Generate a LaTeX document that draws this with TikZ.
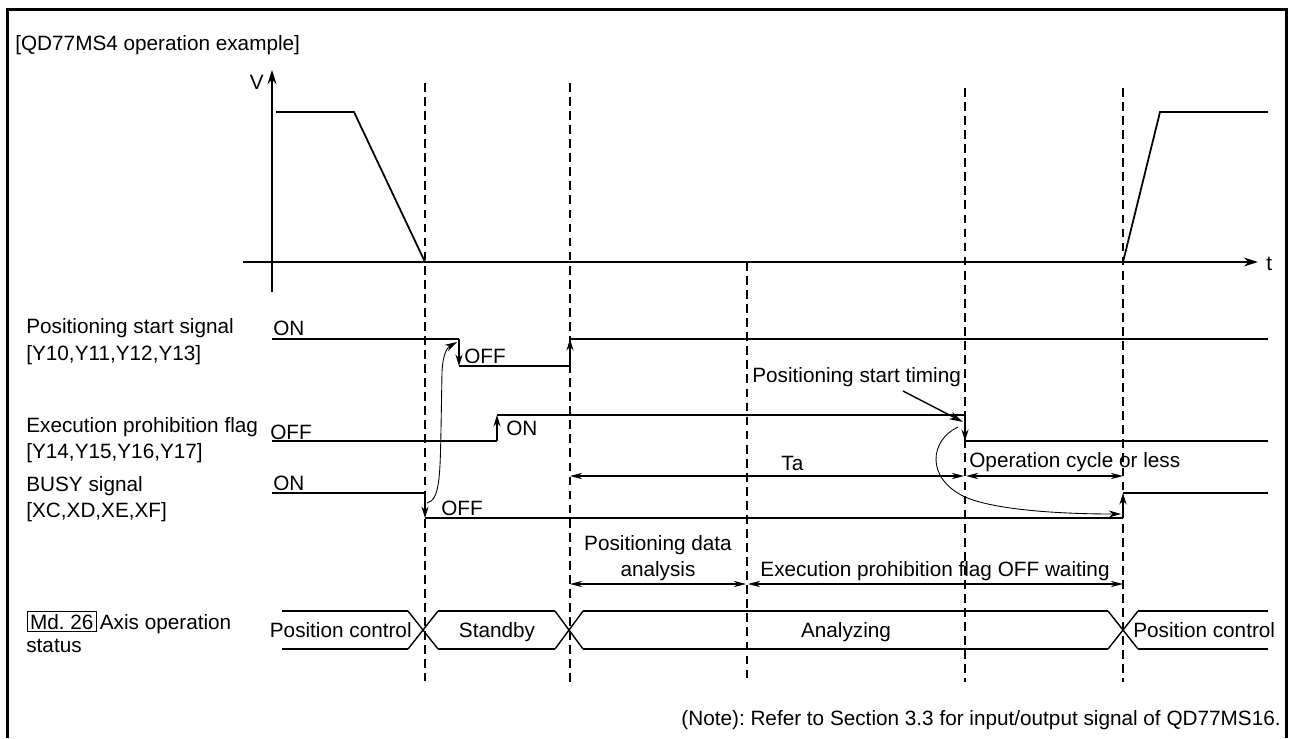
\documentclass[tikz,border=0pt]{standalone}
\usepackage{fontspec}
\setmainfont{Liberation Sans}
\usetikzlibrary{arrows.meta}
\frenchspacing

\begin{document}
\begin{tikzpicture}[x=0.02cm,y=-0.02cm,font=\fontsize{11.8}{14}\selectfont]
\tikzset{sig/.style={line width=1.1pt},
  guide/.style={line width=0.6pt,dash pattern=on 5pt off 3pt},
  axis/.style={line width=1.5pt,-{Stealth[length=8pt,width=5pt]}},
  flank/.style={line width=1.1pt,-{Stealth[length=6.5pt,width=4pt]}},
  thinarr/.style={line width=0.5pt,-{Stealth[length=7pt,width=4pt]}},
  dim/.style={line width=0.7pt,{Stealth[length=7pt,width=3.6pt]}-{Stealth[length=7pt,width=3.6pt]}},
  txt/.style={inner sep=0pt,anchor=base west}}

\useasboundingbox (0,0) rectangle (1294,738);

% frame
\draw[line width=1.7pt] (7.5,738) -- (7.5,9.5) -- (1286.5,9.5) -- (1286.5,738);

\path (15,50) node[txt] (title) {[QD77MS4 operation example]};

% speed graph
\draw[axis] (272,292) -- (272,70);
\draw[axis] (243,262) -- (1258,262);
\path (264,89) node[inner sep=0pt,anchor=base east] (vlab) {V};
\path (1266,270) node[txt] (tlab) {t};
\draw[line width=1pt] (276,112) -- (354,112) -- (425,262);
\draw[line width=1pt] (1123,262) -- (1160,112) -- (1268,112);

% time marks
\draw[guide] (425,83) -- (425,681);
\draw[guide] (570,83) -- (570,683);
\draw[guide] (747,262) -- (747,680);
\draw[guide] (965,88) -- (965,682);
\draw[guide] (1123,88) -- (1123,682);

% signal names
\path (26,333) node[txt] (pss) {Positioning start signal};
\path (26,360) node[txt] (pssy) {[Y10,Y11,Y12,Y13]};
\path (26,432) node[txt] (epf) {Execution prohibition flag};
\path (26,458) node[txt] (epfy) {[Y14,Y15,Y16,Y17]};
\path (26,491) node[txt] (busy) {BUSY signal};
\path (26,517) node[txt] (busyx) {[XC,XD,XE,XF]};
\path (27,629) node[draw,line width=0.5pt,inner xsep=1.5pt,inner ysep=1.5pt,anchor=base west] (md) {Md. 26};
\path (md.base east) ++(3,0) node[txt] (axop) {Axis operation};
\path (26,652) node[txt] (axst) {status};

% positioning start signal
\draw[sig] (272,339) -- (459,339);
\draw[flank] (459,339) -- (459,366);
\draw[sig] (459,366) -- (570,366);
\draw[flank] (570,366) -- (570,339);
\draw[sig] (570,339) -- (1268,339);
\path (273,335) node[txt] (pson) {ON};
\path (464,363) node[txt] (psoff) {OFF};

% execution prohibition flag
\draw[sig] (272,441) -- (497,441);
\draw[flank] (497,441) -- (497,415);
\draw[sig] (497,415) -- (965,415);
\draw[flank] (965,415) -- (965,441);
\draw[sig] (965,441) -- (1268,441);
\path (270,439) node[txt] (epoff) {OFF};
\path (506,435) node[txt] (epon) {ON};

% busy signal
\draw[sig] (272,493) -- (425,493);
\draw[flank] (425,493) -- (425,518);
\draw[sig] (425,518) -- (1123,518);
\draw[flank] (1123,518) -- (1123,493);
\draw[sig] (1123,493) -- (1268,493);
\path (273,490) node[txt] (bon) {ON};
\path (441,515) node[txt] (boff) {OFF};

% start timing
\path (752,382) node[txt] (tmg) {Positioning start timing};
\path (903,391) coordinate (tmgtail) (963,422) coordinate (tmghead);
\draw[line width=0.8pt,-{Stealth[length=8pt,width=4.5pt]}] (tmgtail) -- (tmghead);

% causal curves
\path (427,503) coordinate (c1a) (457,342) coordinate (c1b);
\draw[thinarr] (c1a) .. controls (440,500) and (440,475) .. (441,430)
  -- (442,372) .. controls (443,352) and (448,347) .. (c1b);
\path (958,427) coordinate (c2a) (1121,514) coordinate (c2b);
\draw[thinarr] (c2a) .. controls (930,440) and (925,478) .. (965,497)
  .. controls (995,510) and (1060,514) .. (c2b);

% durations
\path (570,476) coordinate (ta0) (964,476) coordinate (ta1)
      (966,476) coordinate (oc0) (1123,476) coordinate (oc1);
\draw[dim] (ta0) -- (ta1);
\draw[dim] (oc0) -- (oc1);
\path (781,470) node[txt] (talab) {Ta};
\path (969,467) node[txt] (oclab) {Operation cycle or less};

\path (570,584) coordinate (an0) (746,584) coordinate (an1)
      (748,584) coordinate (wt0) (1123,584) coordinate (wt1);
\draw[dim] (an0) -- (an1);
\draw[dim] (wt0) -- (wt1);
\path (658,550) node[inner sep=0pt,anchor=base] (anlab) {Positioning data};
\path (658,576) node[inner sep=0pt,anchor=base] (anlab2) {analysis};
\path (935,576) node[inner sep=0pt,anchor=base] (wtlab) {Execution prohibition flag OFF waiting};

% axis operation status
\foreach \a/\b in {282/408,438/555,583/1108,1138/1268}
  \draw[sig] (\a,611) -- (\b,611) (\a,649) -- (\b,649);
\foreach \a/\b in {408/438,555/583,1108/1138}
  \draw[line width=0.8pt] (\a,611) -- (\b,649) (\a,649) -- (\b,611);
\path (412,637) node[inner sep=0pt,anchor=base east] (st1) {Position control};
\path (497,637) node[inner sep=0pt,anchor=base] (st2) {Standby};
\path (846,637) node[inner sep=0pt,anchor=base] (st3) {Analyzing};
\path (1133,637) node[txt] (st4) {Position control};

\path (1281,725) node[inner sep=0pt,anchor=base east] (note) {(Note): Refer to Section 3.3 for input/output signal of QD77MS16.};

\end{tikzpicture}
\end{document}
